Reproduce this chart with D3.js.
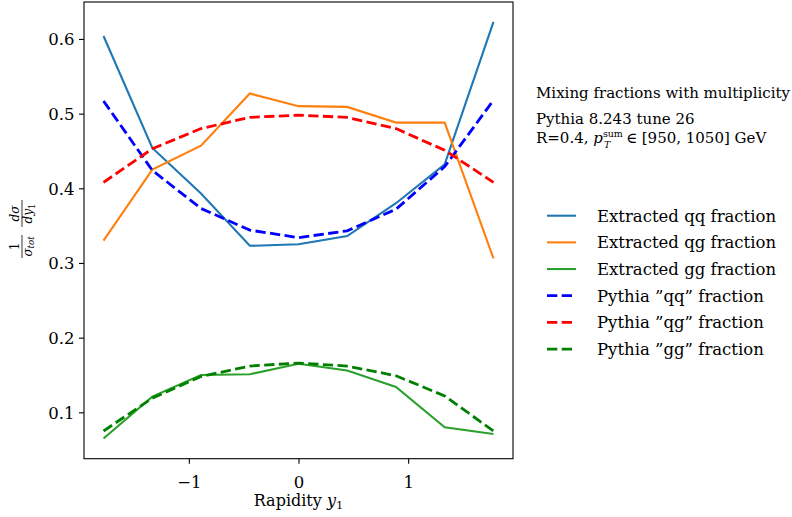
<!DOCTYPE html>
<html>
<head>
<meta charset="utf-8">
<script src="https://cdn.jsdelivr.net/npm/d3@7"></script>
<style>
  body { margin: 0; background: #fff; }
  svg { display: block; font-family: "DejaVu Serif", "Liberation Serif", serif; }
</style>
</head>
<body>
<svg id="chart"></svg>
<script>
// --------------------
// Data
// --------------------
const rapidity = [-1.778, -1.333, -0.889, -0.444, 0, 0.444, 0.889, 1.333, 1.778];

const extractedQQ = [0.604, 0.454, 0.393, 0.323, 0.325, 0.336, 0.380, 0.432, 0.623];
const extractedQG = [0.330, 0.425, 0.457, 0.527, 0.510, 0.509, 0.488, 0.488, 0.306];
const extractedGG = [0.065, 0.121, 0.150, 0.151, 0.165, 0.156, 0.134, 0.080, 0.071];

const pythiaQQ = [0.517, 0.424, 0.373, 0.344, 0.334, 0.343, 0.372, 0.429, 0.518];
const pythiaQG = [0.408, 0.453, 0.480, 0.495, 0.498, 0.495, 0.480, 0.451, 0.408];
const pythiaGG = [0.075, 0.119, 0.148, 0.162, 0.166, 0.162, 0.149, 0.122, 0.075];

const seriesLabels = [
  "Extracted qq fraction", "Extracted qg fraction", "Extracted gg fraction",
  "Pythia \u201dqq\u201d fraction", "Pythia \u201dqg\u201d fraction", "Pythia \u201dgg\u201d fraction"
];
const xTicks = [-1, 0, 1];
const yTicks = [0.1, 0.2, 0.3, 0.4, 0.5, 0.6];

// --------------------
// Basic setup
// --------------------
const width = 792;
const height = 517;
const plot = { left: 84, right: 513, top: 2, bottom: 458.7 };

const svg = d3.select("#chart")
  .attr("width", width)
  .attr("height", height);

const x = d3.scaleLinear().domain([-1.956, 1.956]).range([plot.left, plot.right]);
const y = d3.scaleLinear().domain([0.0379, 0.6495]).range([plot.bottom, plot.top]);

const series = [
  { label: seriesLabels[0], values: extractedQQ, color: "#1f77b4", dashed: false },
  { label: seriesLabels[1], values: extractedQG, color: "#ff7f0e", dashed: false },
  { label: seriesLabels[2], values: extractedGG, color: "#2ca02c", dashed: false },
  { label: seriesLabels[3], values: pythiaQQ, color: "blue", dashed: true },
  { label: seriesLabels[4], values: pythiaQG, color: "red", dashed: true },
  { label: seriesLabels[5], values: pythiaGG, color: "green", dashed: true }
];

const line = d3.line()
  .x((d, i) => x(rapidity[i]))
  .y(d => y(d));

// --------------------
// Lines
// --------------------
svg.append("g")
  .selectAll("path")
  .data(series)
  .join("path")
    .attr("fill", "none")
    .attr("stroke", d => d.color)
    .attr("stroke-width", d => d.dashed ? 2.8 : 2.1)
    .attr("stroke-dasharray", d => d.dashed ? "10.3,4.4" : null)
    .attr("d", d => line(d.values));

// --------------------
// Axes
// --------------------
const fmtX = v => v < 0 ? "\u2212" + Math.abs(v) : String(v);

const xAxis = svg.append("g")
  .attr("transform", `translate(0,${plot.bottom})`)
  .call(d3.axisBottom(x).tickValues(xTicks).tickFormat(fmtX).tickSize(5));

const yAxis = svg.append("g")
  .attr("transform", `translate(${plot.left},0)`)
  .call(d3.axisLeft(y).tickValues(yTicks).tickFormat(d3.format(".1f")).tickSize(5));

[xAxis, yAxis].forEach(g => {
  g.attr("font-family", null).attr("font-size", null);
  g.select(".domain").remove();
  g.selectAll("line").attr("stroke", "#000").attr("stroke-width", 1.1);
  g.selectAll("text").attr("font-size", 16.5).attr("fill", "#000");
});
xAxis.selectAll("text").attr("y", 29.5).attr("dy", 0);
yAxis.selectAll("text").attr("x", -9.5).attr("dy", "0.36em");

// frame
svg.append("rect")
  .attr("x", plot.left)
  .attr("y", plot.top)
  .attr("width", plot.right - plot.left)
  .attr("height", plot.bottom - plot.top)
  .attr("fill", "none")
  .attr("stroke", "#000")
  .attr("stroke-width", 1.1);

// x label
const xLabel = svg.append("text")
  .attr("x", (plot.left + plot.right) / 2)
  .attr("y", 506)
  .attr("text-anchor", "middle")
  .attr("font-size", 16);
xLabel.append("tspan").text("Rapidity ");
xLabel.append("tspan").attr("font-style", "italic").text("y");
xLabel.append("tspan").attr("font-size", 11.5).attr("dy", 3).text("1");

// y label: 1/sigma_tot  d sigma / d y_1 (rotated)
const yl = svg.append("g")
  .attr("transform", "translate(22,229) rotate(-90)")
  .attr("font-size", 12);

yl.append("line").attr("x1", -29).attr("x2", -6).attr("y1", 0).attr("y2", 0)
  .attr("stroke", "#000").attr("stroke-width", 0.8);
yl.append("text").attr("x", -17.5).attr("y", -3.5).attr("text-anchor", "middle").text("1");
const den1 = yl.append("text").attr("x", -17.5).attr("y", 9.5).attr("text-anchor", "middle");
den1.append("tspan").attr("font-style", "italic").text("\u03c3");
den1.append("tspan").attr("font-style", "italic").attr("font-size", 8.5).attr("dy", 2.5).text("tot");

yl.append("line").attr("x1", 2).attr("x2", 29).attr("y1", 0).attr("y2", 0)
  .attr("stroke", "#000").attr("stroke-width", 0.8);
yl.append("text").attr("x", 15.5).attr("y", -3.5).attr("text-anchor", "middle")
  .attr("font-style", "italic").text("d\u03c3");
const den2 = yl.append("text").attr("x", 15.5).attr("y", 10).attr("text-anchor", "middle");
den2.append("tspan").attr("font-style", "italic").text("dy");
den2.append("tspan").attr("font-size", 8.5).attr("dy", 2.5).text("1");

// --------------------
// Annotation
// --------------------
const ann = svg.append("g").attr("font-size", 15);
ann.append("text").attr("x", 536).attr("y", 98).text("Mixing fractions with multiplicity");
ann.append("text").attr("x", 536).attr("y", 124).text("Pythia 8.243 tune 26");
const r = ann.append("text").attr("x", 536).attr("y", 143);
r.append("tspan").text("R=0.4, ");
r.append("tspan").attr("font-style", "italic").text("p");
r.append("tspan").attr("font-size", 9.5).attr("dy", -6).text("sum");
// subscript T drawn as its own text under the superscript
const pBox = r.node().getComputedTextLength();
ann.append("text")
  .attr("x", 536 + pBox - 19)
  .attr("y", 148)
  .attr("font-size", 9.5)
  .attr("font-style", "italic")
  .text("T");
r.append("tspan").attr("dx", 3).attr("dy", 6).text("\u2208 [950, 1050] GeV");

// --------------------
// Legend
// --------------------
const legend = svg.append("g")
  .selectAll("g")
  .data(series)
  .join("g")
    .attr("transform", (d, i) => `translate(547,${215.7 + i * 26.67})`);

legend.append("line")
  .attr("x1", 0).attr("x2", 29)
  .attr("stroke", d => d.color)
  .attr("stroke-width", d => d.dashed ? 2.8 : 2.1)
  .attr("stroke-dasharray", d => d.dashed ? "10.3,4.4" : null);

legend.append("text")
  .attr("x", 50)
  .attr("dy", "0.36em")
  .attr("font-size", 16.5)
  .text(d => d.label);
</script>
</body>
</html>
